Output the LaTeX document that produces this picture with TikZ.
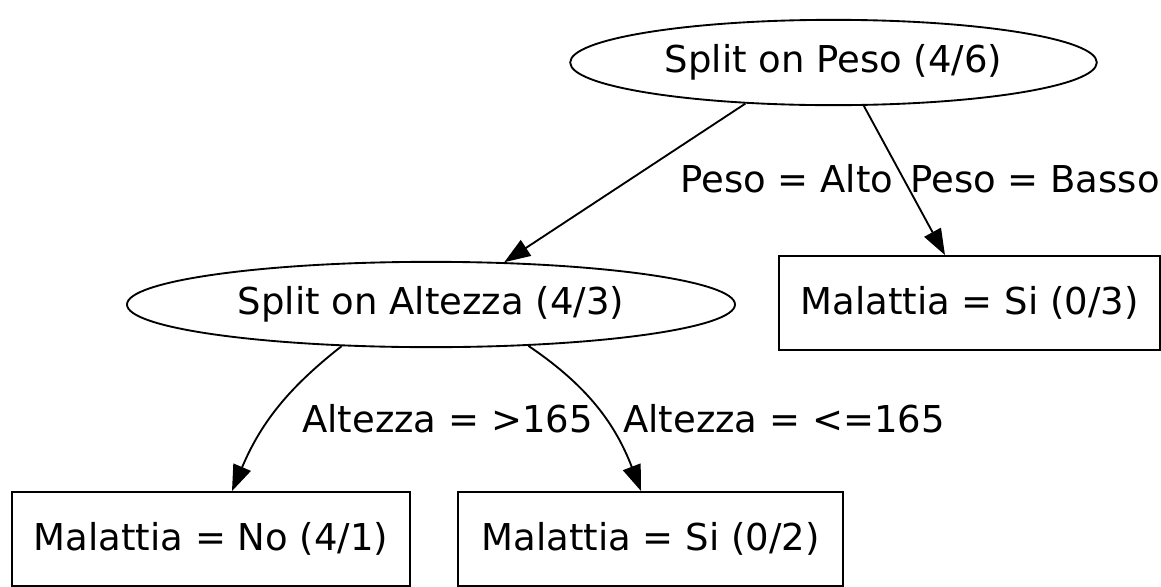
\documentclass[tikz,border=0pt]{standalone}
\usepackage{fontspec}
\setmainfont{DejaVu Sans}
\usetikzlibrary{shapes.geometric,arrows.meta}
\begin{document}
\begin{tikzpicture}[x=0.75pt,y=-0.75pt,
  every node/.style={font=\fontsize{27.75}{33}\selectfont},
  splitnode/.style={draw, ellipse, line width=1.4pt, inner sep=0pt},
  leafnode/.style={draw, rectangle, line width=1.4pt, inner sep=0pt, minimum height=70.5pt},
  edge/.style={line width=1.4pt, -{Triangle[length=19.5pt,width=14pt]}},
  lbl/.style={anchor=base west, inner sep=0pt}]
\useasboundingbox (0,0) rectangle (1161,586);
\node[splitnode, minimum width=395pt, minimum height=64pt] (top) at (833.5,62.5) {Split on Peso (4/6)};
\node[splitnode, minimum width=456pt, minimum height=64pt] (alt) at (431,304.5) {Split on Altezza (4/3)};
\node[leafnode, minimum width=285.75pt] (si3) at (969.5,303) {Malattia = Si (0/3)};
\node[leafnode, minimum width=298.5pt] (no) at (211,539) {Malattia = No (4/1)};
\node[leafnode, minimum width=288.75pt] (si2) at (650.5,539) {Malattia = Si (0/2)};
\draw[edge] (top.205) -- (alt.30);
\draw[edge] (top.305.7) -- ([xshift=-18.4pt]si3.north);
\draw[edge] (alt.205.9) to[out=218,in=67] ([xshift=15.75pt]no.north);
\draw[edge] (alt.337.9) to[out=-34,in=111] ([xshift=-7.1pt]si2.north);
\node[lbl] (l1) at (680,192) {Peso = Alto};
\node[lbl] (l2) at (910,192) {Peso = Basso};
\node[lbl] (l3) at (302,432) {Altezza = >165};
\node[lbl] (l4) at (623,432) {Altezza = <=165};
\end{tikzpicture}
\end{document}
